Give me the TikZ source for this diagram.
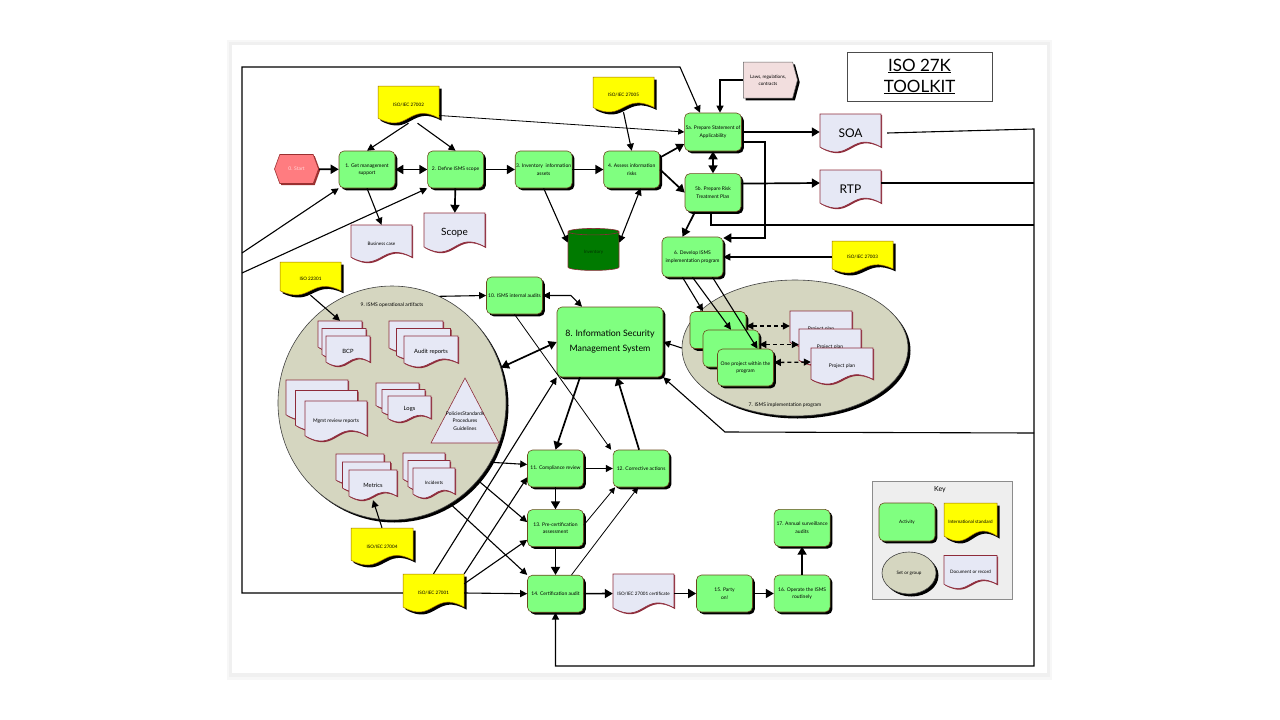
\documentclass[tikz,border=0pt]{standalone}
\usepackage{fontspec}
\setmainfont{Lato}
\usepackage{tikz}
\usetikzlibrary{
  shapes.geometric, shapes.symbols,
  arrows.meta, positioning, shadows
}
\usepackage{xcolor}

\definecolor{actgreen}{HTML}{80FF80}
\definecolor{actedge}{HTML}{6B4A1E}
\definecolor{stdyellow}{HTML}{FFFF00}
\definecolor{stdedge}{HTML}{9C6A00}
\definecolor{docfill}{HTML}{E6E8F5}
\definecolor{docedge}{HTML}{8E2B3A}
\definecolor{setfill}{HTML}{D5D6C0}
\definecolor{startred}{HTML}{FF7C80}
\definecolor{startedge}{HTML}{9A3030}
\definecolor{lawpink}{HTML}{F2DEDE}
\definecolor{invgreen}{HTML}{007A00}
\definecolor{keygray}{HTML}{EEEEEE}

\newcommand{\actfont}{\fontsize{5}{7.6}\selectfont}
\newcommand{\stdfont}{\fontsize{4.6}{7}\selectfont}
\newcommand{\docfont}{\fontsize{5.8}{8}\selectfont}
\newcommand{\bigdocfont}{\fontsize{12}{14}\selectfont}
\newcommand{\scopefont}{\fontsize{10}{12}\selectfont}
\newcommand{\ismsfont}{\fontsize{8.8}{15}\selectfont}
\newcommand{\tkfont}{\fontsize{17}{21}\selectfont}
\newcommand{\keyfont}{\fontsize{7}{8}\selectfont}

% wavy document: kind, name, x, y, width, height, text
\newcommand{\wavydoc}[7]{%
  \fill[#1shade] (#3-#5/2,#4-#6/2) -- (#3+#5/2,#4-#6/2) -- (#3+#5/2,#4+0.37*#6)
    .. controls (#3,#4-0.08*#6) and (#3,#4+0.82*#6) .. (#3-#5/2,#4+0.37*#6) -- cycle;
  \filldraw[#1body] (#3-#5/2,#4-#6/2) -- (#3+#5/2,#4-#6/2) -- (#3+#5/2,#4+0.37*#6)
    .. controls (#3,#4-0.08*#6) and (#3,#4+0.82*#6) .. (#3-#5/2,#4+0.37*#6) -- cycle;
  \node[#1label, minimum width=#5pt, minimum height=#6pt] (#2) at (#3,#4) {#7};
}

\tikzset{
  % activities and sets
  blackshadow/.style={
    drop shadow={shadow xshift=2.3pt, shadow yshift=-2.3pt, fill=black, opacity=1}
  },
  activity/.style={
    rectangle, rounded corners=5pt,
    fill=actgreen, draw=actedge, line width=0.6pt,
    minimum width=56pt, minimum height=37pt,
    inner sep=1pt, align=center, font=\actfont,
    blackshadow
  },
  startnode/.style={
    signal, signal to=east and west, signal pointer angle=140,
    fill=startred, draw=startedge, line width=0.6pt,
    minimum width=44pt, minimum height=29pt, inner sep=1pt,
    font=\actfont, text=white!85!red,
    drop shadow={shadow xshift=1.5pt, shadow yshift=-1.5pt, fill=startedge, opacity=1}
  },
  setgroup/.style={
    ellipse, fill=setfill, draw=black!75, line width=0.6pt, inner sep=0pt,
    drop shadow={shadow xshift=2.5pt, shadow yshift=-2.5pt, fill=black, opacity=1}
  },
  setlabel/.style={font=\actfont, inner sep=1pt},
  dbshape/.style={
    cylinder, shape border rotate=90, aspect=0.25,
    fill=invgreen, draw=docedge, line width=0.6pt,
    minimum width=51pt, minimum height=42pt,
    font=\stdfont, text=green!20!black
  },
  lawnode/.style={
    signal, signal to=east, signal pointer angle=150,
    fill=lawpink, draw=black!60, line width=0.5pt,
    minimum width=54pt, minimum height=36pt, inner sep=1pt,
    font=\stdfont, align=center, blackshadow
  },
  titlebox/.style={
    rectangle, draw=black!70, line width=0.7pt,
    minimum width=145pt, minimum height=49pt,
    align=center, font=\tkfont
  },
  keybox/.style={
    rectangle, fill=keygray, draw=black!45, line width=0.6pt,
    minimum width=140pt, minimum height=118pt
  },
  % wavy documents
  stdbody/.style={fill=stdyellow, draw=stdedge, line width=0.5pt},
  stdshade/.style={fill=black, shift={(2.5,2.5)}},
  stdlabel/.style={font=\stdfont, align=center, inner sep=1pt},
  docbody/.style={fill=docfill, draw=docedge, line width=0.6pt},
  docshade/.style={fill=docedge, shift={(1.2,1.2)}},
  doclabel/.style={font=\docfont, align=center, inner sep=1pt},
  % connectors
  flow/.style={-{Triangle[length=8pt,width=9pt]}, line width=1.7pt},
  flowboth/.style={flow, {Triangle[length=8pt,width=9pt]}-{Triangle[length=8pt,width=9pt]}},
  link/.style={-{Triangle[length=7pt,width=7pt]}, line width=1.1pt},
  linkboth/.style={link, {Triangle[length=7pt,width=7pt]}-{Triangle[length=7pt,width=7pt]}},
  thinlink/.style={-{Triangle[length=6pt,width=6pt]}, line width=0.8pt},
  wire/.style={line width=1.1pt},
  dashboth/.style={linkboth, dash pattern=on 4pt off 3pt, line width=1.3pt}
}

\begin{document}
\begin{tikzpicture}[x=1pt, y=-1pt]
  \useasboundingbox (0,0) rectangle (1280,720);
  \fill[white] (0,0) rectangle (1280,720);

  % page
  \fill[black!3] (227,40) rectangle (1052,680);
  \fill[black!6] (229,42) rectangle (1050,677);
  \fill[white] (232,45) rectangle (1047,673);

  \node[titlebox] (title) at (919.5,76.5) {\underline{ISO 27K}\\\underline{TOOLKIT}};

  % --- Sets ---
  \node[setgroup, minimum width=228pt, minimum height=234pt] (opsset) at (392,403) {};
  \node[setlabel] (opslabel) at (392,305) {9. ISMS operational artifacts};
  \node[setgroup, minimum width=226pt, minimum height=136pt] (progset) at (795,348) {};
  \node[setlabel] (proglabel) at (785,405) {7. ISMS implementation program};

  % artifacts in set 9
  \wavydoc{doc}{bcp1}{340}{336}{44}{30}{}
  \wavydoc{doc}{bcp2}{344}{343.5}{44}{30}{}
  \wavydoc{doc}{bcp}{348}{351}{44}{30}{BCP}
  \wavydoc{doc}{audit1}{416}{336.5}{54}{31}{}
  \wavydoc{doc}{audit2}{423.5}{344}{54}{31}{}
  \wavydoc{doc}{auditrep}{431}{351.5}{54}{31}{Audit reports}
  \wavydoc{doc}{mgmt1}{317}{400}{62}{40}{}
  \wavydoc{doc}{mgmt2}{326.5}{410.5}{62}{40}{}
  \wavydoc{doc}{mgmtrev}{336}{421}{62}{40}{\actfont Mgmt review reports}
  \wavydoc{doc}{logs1}{397.5}{396}{43}{26}{}
  \wavydoc{doc}{logs2}{403.5}{402.5}{43}{26}{}
  \wavydoc{doc}{logs}{409.5}{409}{43}{26}{Logs}
  \wavydoc{doc}{metrics1}{360}{469}{48}{30}{}
  \wavydoc{doc}{metrics2}{366.5}{477}{48}{30}{}
  \wavydoc{doc}{metrics}{373}{485}{48}{30}{Metrics}
  \wavydoc{doc}{incid1}{424}{468}{42}{30}{}
  \wavydoc{doc}{incid2}{429}{475.5}{42}{30}{}
  \wavydoc{doc}{incidents}{434}{483}{42}{30}{\stdfont Incidents}
  \filldraw[docbody] (465,378) -- (499,443) -- (431,443) -- cycle;
  \node[font=\actfont, align=center, inner sep=0pt] (policies) at (465,421)
    {PoliciesStandards\\Procedures\\Guidelines};

  % projects in set 7
  \node[activity] (proj1) at (718,330) {};
  \node[activity] (proj2) at (731,348.5) {};
  \node[activity] (proj) at (745.5,367.5) {One project within the\\program};
  \wavydoc{doc}{plan1}{821}{329}{62}{36}{\actfont Project plan}
  \wavydoc{doc}{plan2}{830}{347}{62}{36}{\actfont Project plan}
  \wavydoc{doc}{plan}{842}{366}{62}{36}{\actfont Project plan}

  % --- Activities ---
  \node[startnode] (start) at (296.5,169) {0. Start};
  \node[activity] (getsupport) at (367,169.5) {1. Get management\\support};
  \node[activity, right=32pt of getsupport] (defscope) {2. Define ISMS scope};
  \node[activity, right=31pt of defscope] (inventory) {3. Inventory\ \ information\\assets};
  \node[activity, right=31pt of inventory] (assess) {4. Assess information\\risks};
  \node[activity, minimum height=38pt] (prepsoa) at (713,132) {5a. Prepare Statement of\\Applicability};
  \node[activity, minimum height=38pt, below=22pt of prepsoa] (preprtp) {5b. Prepare Risk\\Treatment Plan};
  \node[activity, minimum width=61pt, minimum height=40pt] (devprog) at (692.5,257)
    {6. Develop ISMS\\implementation program};
  \node[activity, minimum width=106pt, minimum height=70pt, font=\ismsfont] (isms) at (610,342)
    {8. Information Security\\Management System};
  \node[activity] (intaudit) at (514.5,295.5) {10. ISMS internal audits};
  \node[activity] (compliance) at (555.5,468.5) {11. Compliance review};
  \node[activity, right=29pt of compliance] (corrective) {12. Corrective actions};
  \node[activity, below=22pt of compliance] (precert) {13. Pre-certification\\assessment};
  \node[activity, below=28pt of precert] (certaudit) {14. Certification audit};
  \wavydoc{doc}{certdoc}{643.5}{593.5}{61}{39}{\stdfont ISO/IEC 27001 certificate}
  \node[activity, right=22pt of certdoc] (party) {15. Party\\on!};
  \node[activity, right=21pt of party] (operate) {16. Operate the ISMS\\routinely};
  \node[activity, above=28pt of operate] (surveil) {17. Annual surveillance\\audits};

  % --- Standards and records ---
  \wavydoc{std}{std27002}{408.5}{104.5}{61}{37}{ISO/IEC 27002}
  \wavydoc{std}{std27005}{623.5}{94.5}{61}{35}{ISO/IEC 27005}
  \wavydoc{std}{std27003}{862.5}{257}{61}{32}{ISO/IEC 27003}
  \wavydoc{std}{std22301}{310.5}{278.5}{61}{33}{ISO 22301}
  \wavydoc{std}{std27004}{382}{546.5}{62}{37}{ISO/IEC 27004}
  \wavydoc{std}{std27001}{433.5}{593}{61}{38}{ISO/IEC 27001}
  \node[lawnode] (laws) at (768,80) {Laws, regulations,\\contracts};
  \wavydoc{doc}{soa}{850.5}{133}{61}{38}{\bigdocfont SOA}
  \wavydoc{doc}{rtp}{850.5}{189}{61}{38}{\bigdocfont RTP}
  \wavydoc{doc}{bizcase}{381.5}{243.5}{61}{37}{\stdfont Business case}
  \wavydoc{doc}{scope}{454.5}{232.5}{61}{39}{\scopefont Scope}
  \node[dbshape] (invdb) at (593.5,252) {Inventory};

  % --- Key ---
  \node[keybox] (keybox) at (942,540) {};
  \node[font=\keyfont] (keylabel) at (940,490) {Key};
  \node[activity, minimum height=38pt, font=\stdfont] (keyact) at (907,522) {Activity};
  \wavydoc{std}{keystd}{970.5}{522}{53}{38}{International standard}
  \node[setgroup, minimum width=54pt, minimum height=42pt, font=\stdfont] (keyset) at (909,573) {Set or group};
  \wavydoc{doc}{keydoc}{970.5}{572}{53}{33}{\stdfont Document or record}

  % --- Connectors ---
  \coordinate (looptl) at (242,67);
  \coordinate (looptr) at (680,67);
  \coordinate (j1) at (242,253);
  \coordinate (j2) at (242,273);
  \coordinate (rtop) at (1034,129);
  \coordinate (rrtp) at (1034,183);
  \coordinate (rrisk) at (1034,225);
  \coordinate (rfeed) at (1034,433);
  \coordinate (rbot) at (1034,666);
  \coordinate (bend7) at (725,432);

  % main chain
  \draw[flow] (start) -- (getsupport);
  \draw[flowboth] (getsupport) -- (defscope);
  \draw[flow] (defscope) -- (inventory);
  \draw[flow] (inventory) -- (assess);
  \draw[link] (std27002.south) -- (getsupport.north);
  \draw[link] ([xshift=9pt]std27002.south) -- (defscope.north);
  \draw[thinlink] ([yshift=-11pt]std27002.east) -- (prepsoa.west);
  \draw[link] (getsupport.south) -- (bizcase.north);
  \draw[flow] (defscope) -- (scope);
  \draw[link] (inventory.south) -- (invdb.160);
  \draw[linkboth] ([xshift=9pt]assess.south) -- (invdb.20);
  \draw[link] (std27005.south) -- (assess.north);
  \draw[flow] ([yshift=12pt]assess.east) -- ([yshift=-12pt]prepsoa.west);
  \draw[flow] (assess.east) -- (preprtp.west);
  \draw[flowboth] (prepsoa) -- (preprtp);
  \draw[link] (laws.west) -| ([xshift=7pt]prepsoa.north);
  \draw[flow] (prepsoa.east) -- (prepsoa.east -| soa.west);
  \draw[flow] ([yshift=9pt]preprtp.east) -- ([yshift=6pt]rtp.west);
  \draw[flow] ([yshift=-10pt]prepsoa.east) -- ++(23,0) |- ([yshift=19pt]devprog.east);
  \draw[flow] ([xshift=-18pt]preprtp.south) -- ([xshift=-10pt]devprog.north);
  \draw[link] (std27003.west) -- (devprog.east);

  % loop from ISO/IEC 27001
  \draw[link] (std27001.west) -| (looptl) -- (looptr) -- ([xshift=-13pt]prepsoa.north);
  \draw[link] (j1) -- (getsupport.south west);
  \draw[link] (j2) -- (defscope.south west);

  % records back into certification
  \draw[link] ([xshift=6pt]soa.east) -- (rtop) -- (rbot) -| (certaudit.south);
  \draw[wire] ([yshift=6pt]rtp.east) -- (rrtp);
  \draw[wire] ([xshift=-2pt]preprtp.south) |- (rrisk);
  \draw[link] (rfeed) -- (bend7) -- (isms.south east);

  % implementation program
  \draw[link] ([xshift=-10pt]devprog.south) -- ([xshift=-15pt]proj1.north);
  \draw[link] (devprog.south) -- (proj2.north);
  \draw[link] ([xshift=20pt]devprog.south) -- ([xshift=12pt]proj.north);
  \draw[link] (progset.west) -- (isms.east);
  \draw[dashboth] ([yshift=4pt]proj1.east) -- ([yshift=3pt]plan1.west);
  \draw[dashboth] ([yshift=4pt]proj2.east) -- ([yshift=2.5pt]plan2.west);
  \draw[dashboth] ([yshift=5pt]proj.east) -- ([yshift=4pt]plan.west);

  % operations and audits
  \draw[link] (std22301.south) -- (bcp1.north);
  \draw[link] (opsset.66) -- (intaudit.west);
  \draw[linkboth] (intaudit.east) -- ++(28,0) -- ([xshift=-28pt]isms.north);
  \draw[thinlink] (intaudit.south) -- ([xshift=-30pt]corrective.north);
  \draw[flowboth] (opsset.18) -- (isms.west);
  \draw[flow] ([xshift=-30pt]isms.south) -- (compliance.north);
  \draw[flow] ([xshift=-2pt]corrective.north) -- ([xshift=7pt]isms.south);
  \draw[link] (compliance) -- (corrective);
  \draw[flow] (compliance) -- (precert);
  \draw[flow] (precert) -- (certaudit);
  \draw[thinlink] ([yshift=3pt]precert.east) -- ([xshift=-26pt]corrective.south);
  \draw[thinlink] ([xshift=16pt]certaudit.north) -- ([xshift=-3pt]corrective.south);
  \draw[flow] (certaudit) -- (certdoc);
  \draw[flow] (certdoc) -- (party);
  \draw[flow] (party) -- (operate);
  \draw[flow] (operate) -- (surveil);
  \draw[link] (std27004.north) -- (metrics.south);
  \draw[link] (opsset.-31) -- ([yshift=4pt]compliance.west);
  \draw[link] (opsset.-42) -- ([yshift=6pt]precert.west);
  \draw[link] (opsset.-60) -- (certaudit.north west);
  \draw[link] (std27001.north) -- (isms.south west);
  \draw[link] (std27001.north east) -- ([yshift=10pt]compliance.south west);
  \draw[link] ([yshift=-10pt]std27001.north east) -- ([yshift=7pt]precert.south west);
  \draw[link] (std27001.east) -- (certaudit.west);

\end{tikzpicture}
\end{document}
